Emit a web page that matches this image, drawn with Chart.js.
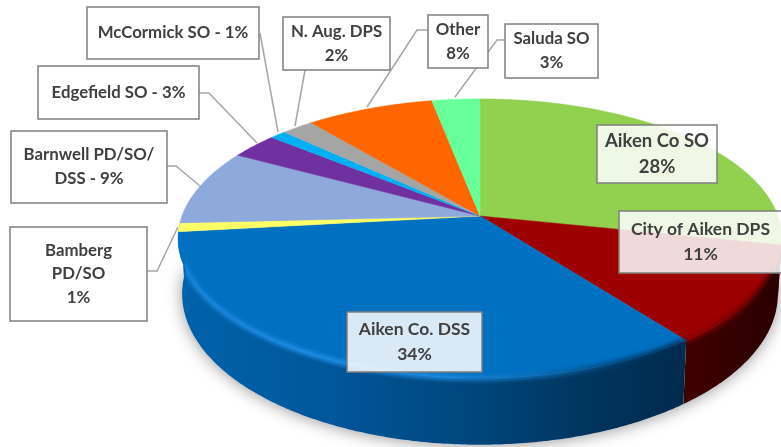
<!DOCTYPE html>
<html>
<head>
<meta charset="utf-8">
<title>Share by agency</title>
<script src="https://cdn.jsdelivr.net/npm/chart.js@4"></script>
<style>
    html, body { margin: 0; padding: 0; background: #fff; overflow: hidden; }
    canvas { display: block; filter: blur(0.35px); }
</style>
</head>
<body>
<canvas id="pie" width="781" height="447"></canvas>
<script>
// Data, clockwise from 12 o'clock
const agencies = ['Aiken Co SO', 'City of Aiken DPS', 'Aiken Co. DSS', 'Bamberg PD/SO', 'Barnwell PD/SO/DSS',
    'Edgefield SO', 'McCormick SO', 'N. Aug. DPS', 'Other', 'Saluda SO'];
const shares = [28.3, 11.4, 33.5, 1, 8.8, 3, 1, 2, 8, 3];
const labelLines = [
    ['Aiken Co SO', '28%'],
    ['City of Aiken DPS', '11%'],
    ['Aiken Co. DSS', '34%'],
    ['Bamberg', 'PD/SO', '1%'],
    ['Barnwell PD/SO/', 'DSS - 9%'],
    ['Edgefield SO - 3%'],
    ['McCormick SO - 1%'],
    ['N. Aug. DPS', '2%'],
    ['Other', '8%'],
    ['Saluda SO', '3%']
];

// Colours
const sliceColors = ['#92D050', '#9C0000', '#0070C0', '#FFFF66', '#8EA9DB', '#7030A0', '#00B0F0', '#A5A5A5', '#FF6600', '#66FF99'];
const wallStops = {
    0: [[770, '#55792c'], [781, '#2c3d16']],
    1: [[686, '#3f0000'], [781, '#2a0000']],
    2: [[178, '#0062aa'], [330, '#00579a'], [480, '#00457a'], [600, '#00345c'], [686, '#002a4c']]
};
const rimStops = {
    0: [[700, 'rgba(146,208,80,0)'], [770, '#5d7f33']],
    1: [[690, '#8c0000'], [740, '#6a0000'], [781, '#180000']],
    2: [[178, '#1a86dc'], [300, '#2090ea'], [440, '#1f8ce2'], [540, '#0f6cb4'], [620, '#003e6e'], [686, '#002c50']]
};

// Box geometry for the callouts: x, y, w, h, font size, box fill
const boxes = [
    [597, 125, 120, 58, 18.5, 'rgba(255,255,255,0.85)'],
    [619, 211, 163, 62, 17.5, 'rgba(255,255,255,0.85)'],
    [347, 312, 135, 60, 17.5, 'rgba(255,255,255,0.85)'],
    [10, 227, 137, 94, 16.8, '#fff'],
    [11, 131, 156, 72, 16.8, '#fff'],
    [38, 66, 161, 53, 16.8, '#fff'],
    [87, 7, 172, 52, 16.8, '#fff'],
    [283, 17, 107, 53, 16.8, '#fff'],
    [428, 15, 60, 53, 16.8, '#fff'],
    [505, 24, 93, 54, 16.8, '#fff']
];
const leaders = [
    [[147, 271], [157, 271], [178, 227]],
    [[167, 166], [176, 166], [200, 186]],
    [[199, 93], [209, 93], [257, 143]],
    [[260, 33], [278, 132]],
    [[305, 70], [295, 126]],
    [[367, 107], [417, 30], [428, 30]],
    [[455, 97], [497, 40], [505, 40]]
];

// Perspective of the disc: top plane and bottom plane, in units of the chart's radius
const TILT = 0.161;
const TOP_PLANE = { rx: 2.547, ry: 1.162, drop: 0 };
const BOTTOM_PLANE = { rx: 2.513, ry: 1.256, drop: 53.6 };
const WALL_FROM = 0.1;
const WALL_TO = Math.PI - 0.05;

function project(arc, angle, plane) {
    const u = Math.cos(angle);
    const v = Math.sin(angle);
    const w = 1 - TILT * v;
    return [
        arc.x + arc.outerRadius * plane.rx * u / w,
        arc.y + plane.drop + arc.outerRadius * plane.ry * v / w
    ];
}

function tracePlane(ctx, arc, from, to, plane) {
    const steps = Math.max(2, Math.ceil(Math.abs(to - from) / 0.01));
    for (let i = 0; i <= steps; i++) {
        const p = project(arc, from + (to - from) * i / steps, plane);
        ctx.lineTo(p[0], p[1]);
    }
}

function xGradient(ctx, stops) {
    const first = stops[0][0];
    const last = stops[stops.length - 1][0];
    const g = ctx.createLinearGradient(first, 0, last, 0);
    stops.forEach(s => g.addColorStop((s[0] - first) / (last - first), s[1]));
    return g;
}

function drawShadow(ctx, arc) {
    ctx.save();
    ctx.shadowColor = 'rgba(0,0,0,0.4)';
    ctx.shadowBlur = 16;
    ctx.shadowOffsetY = 1;
    ctx.fillStyle = '#fff';
    ctx.beginPath();
    tracePlane(ctx, arc, 0, Math.PI, BOTTOM_PLANE);
    ctx.closePath();
    ctx.fill();
    ctx.restore();
}

function drawWall(ctx, arc, index) {
    if (!wallStops[index]) return;
    const from = Math.max(arc.startAngle, WALL_FROM);
    // the blue wall carries on under the thin yellow slice
    const to = index === 2 ? WALL_TO : Math.min(arc.endAngle, WALL_TO);
    if (to <= from) return;
    ctx.beginPath();
    tracePlane(ctx, arc, from, to, TOP_PLANE);
    tracePlane(ctx, arc, to, from, BOTTOM_PLANE);
    ctx.closePath();
    ctx.fillStyle = xGradient(ctx, wallStops[index]);
    ctx.fill();
}

function drawFace(ctx, arc, index) {
    ctx.beginPath();
    ctx.moveTo(arc.x, arc.y);
    tracePlane(ctx, arc, arc.startAngle, arc.endAngle, TOP_PLANE);
    ctx.closePath();
    ctx.fillStyle = sliceColors[index];
    ctx.fill();
    ctx.strokeStyle = sliceColors[index];
    ctx.lineWidth = 0.5;
    ctx.stroke();
}

// soft bevel along the front edge of the top face
function drawRim(ctx, arc, index) {
    const from = Math.max(arc.startAngle, WALL_FROM - 0.1);
    const to = Math.min(arc.endAngle, WALL_TO);
    if (to <= from || !rimStops[index]) return;
    ctx.save();
    // keep the blur inside the disc's outline
    ctx.beginPath();
    tracePlane(ctx, arc, Math.PI, 2 * Math.PI, TOP_PLANE);
    tracePlane(ctx, arc, 0, Math.PI, BOTTOM_PLANE);
    ctx.closePath();
    ctx.clip();
    ctx.filter = 'blur(2px)';
    ctx.beginPath();
    const first = project(arc, from, TOP_PLANE);
    ctx.moveTo(first[0], first[1]);
    tracePlane(ctx, arc, from, to, TOP_PLANE);
    ctx.strokeStyle = xGradient(ctx, rimStops[index]);
    ctx.lineWidth = 5;
    ctx.stroke();
    ctx.restore();
}

function drawLeaders(ctx) {
    ctx.strokeStyle = '#A6A6A6';
    ctx.lineWidth = 1.5;
    leaders.forEach(points => {
        ctx.beginPath();
        points.forEach((p, i) => i ? ctx.lineTo(p[0], p[1]) : ctx.moveTo(p[0], p[1]));
        ctx.stroke();
    });
}

function drawLabels(ctx) {
    boxes.forEach((box, i) => {
        const [x, y, w, h, size, fill] = box;
        ctx.fillStyle = fill;
        ctx.fillRect(x, y, w, h);
        ctx.strokeStyle = '#7F7F7F';
        ctx.lineWidth = 1.5;
        ctx.strokeRect(x, y, w, h);

        const lines = labelLines[i];
        const lineHeight = size * 1.42;
        ctx.font = 'bold ' + size + 'px Lato, "Open Sans", sans-serif';
        ctx.fillStyle = '#404040';
        ctx.textAlign = 'center';
        ctx.textBaseline = 'middle';
        lines.forEach((text, n) => {
            const offset = (n - (lines.length - 1) / 2) * lineHeight;
            ctx.fillText(text, x + w / 2, y + h / 2 + offset);
        });
    });
}

const disc3d = {
    id: 'disc3d',
    // the library has worked out each slice's angles and the centre; paint them tilted
    beforeDatasetDraw(chart) {
        const ctx = chart.ctx;
        const arcs = chart.getDatasetMeta(0).data;
        ctx.save();
        drawShadow(ctx, arcs[0]);
        arcs.forEach((arc, i) => drawWall(ctx, arc, i));
        arcs.forEach((arc, i) => drawFace(ctx, arc, i));
        arcs.forEach((arc, i) => drawRim(ctx, arc, i));
        ctx.restore();
        return false;
    },
    afterDraw(chart) {
        const ctx = chart.ctx;
        ctx.save();
        drawLeaders(ctx);
        drawLabels(ctx);
        ctx.restore();
    }
};

new Chart(document.getElementById('pie'), {
    type: 'pie',
    data: {
        labels: agencies,
        datasets: [{ data: shares, backgroundColor: sliceColors, borderWidth: 0 }]
    },
    options: {
        responsive: false,
        animation: false,
        layout: { padding: { left: 363, right: 184, top: 99, bottom: 114 } },
        plugins: { legend: { display: false }, tooltip: { enabled: false } }
    },
    plugins: [disc3d]
});
</script>
</body>
</html>
